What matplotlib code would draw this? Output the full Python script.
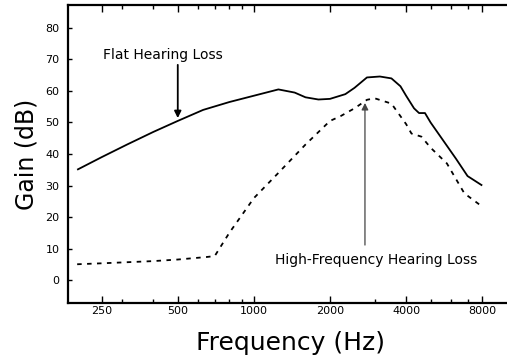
import matplotlib
matplotlib.use("Agg")
import matplotlib.pyplot as plt
from matplotlib.ticker import FixedLocator, NullFormatter

# Data
flat_freq = [200, 250, 315, 400, 500, 630, 800, 1000, 1250, 1450, 1600, 1800, 2000,
             2300, 2500, 2800, 3150, 3500, 3800, 4000, 4300, 4500, 4750, 5000, 6300, 7000, 8000]
flat_gain = [35, 39, 43, 47, 50.5, 54, 56.5, 58.5, 60.5, 59.5, 58, 57.3, 57.5,
             59, 61, 64.3, 64.6, 64, 61.5, 58.5, 54.5, 53, 53, 50, 38.5, 33, 30]

hf_freq = [200, 250, 400, 500, 650, 700, 800, 1000, 1250, 1600, 2000, 2200,
           2500, 2800, 3000, 3500, 4000, 4200, 4600, 5000, 5800, 6800, 8000]
hf_gain = [5, 5.3, 6, 6.5, 7.3, 7.6, 15, 26, 34, 43, 50.5, 52,
           54.5, 57.2, 57.7, 56, 49.5, 46.5, 45.5, 42, 37, 27.5, 23.3]

x_major = [250, 500, 1000, 2000, 4000, 8000]
x_major_labels = ["250", "500", "1000", "2000", "4000", "8000"]
x_minor = [300, 400, 600, 700, 800, 900, 3000, 5000, 6000, 7000]
y_ticks = [0, 10, 20, 30, 40, 50, 60, 70, 80]

fig = plt.figure(figsize=(5.07, 3.58), dpi=100)
ax = fig.add_axes([68/507, 1 - 303/358, 1 - 68/507 + 0.01, (303 - 5)/358])

ax.plot(flat_freq, flat_gain, color="black", lw=1.3, solid_capstyle="butt")
ax.plot(hf_freq, hf_gain, color="black", lw=1.3, linestyle=(0, (2.5, 3)))

ax.set_xscale("log")
ax.set_xlim(184, 10500)
ax.set_ylim(-7.3, 87.3)

ax.xaxis.set_major_locator(FixedLocator(x_major))
ax.set_xticklabels(x_major_labels)
ax.xaxis.set_minor_locator(FixedLocator(x_minor))
ax.xaxis.set_minor_formatter(NullFormatter())
ax.set_yticks(y_ticks)

ax.tick_params(axis="x", which="major", direction="in", length=5, width=1,
               top=True, labelsize=8, pad=2)
ax.tick_params(axis="x", which="minor", direction="in", length=3, width=1, top=True)
ax.tick_params(axis="y", which="major", direction="in", length=3, width=1,
               right=False, labelsize=8, pad=6)

for s in ["left", "bottom", "top"]:
    ax.spines[s].set_linewidth(1.6)
ax.spines["right"].set_visible(False)

ax.set_xlabel("Frequency (Hz)", fontsize=18, labelpad=11)
ax.set_ylabel("Gain (dB)", fontsize=17, labelpad=5)

# Flat hearing loss label + vertical arrow
ax.text(438, 71.4, "Flat Hearing Loss", fontsize=10, ha="center", va="center")
ax.annotate("", xy=(500, 51.4), xytext=(500, 68.3),
            arrowprops=dict(arrowstyle="-|>", color="black", lw=1.3,
                            mutation_scale=10, shrinkA=0, shrinkB=0))

# High-frequency hearing loss label + vertical arrow
ax.text(3048, 6.3, "High-Frequency Hearing Loss", fontsize=10, ha="center", va="center")
ax.annotate("", xy=(2750, 56.2), xytext=(2750, 11.1),
            arrowprops=dict(arrowstyle="-|>", color="#444444", lw=0.9,
                            mutation_scale=10, shrinkA=0, shrinkB=0))

fig.savefig("out.png", dpi=100)
